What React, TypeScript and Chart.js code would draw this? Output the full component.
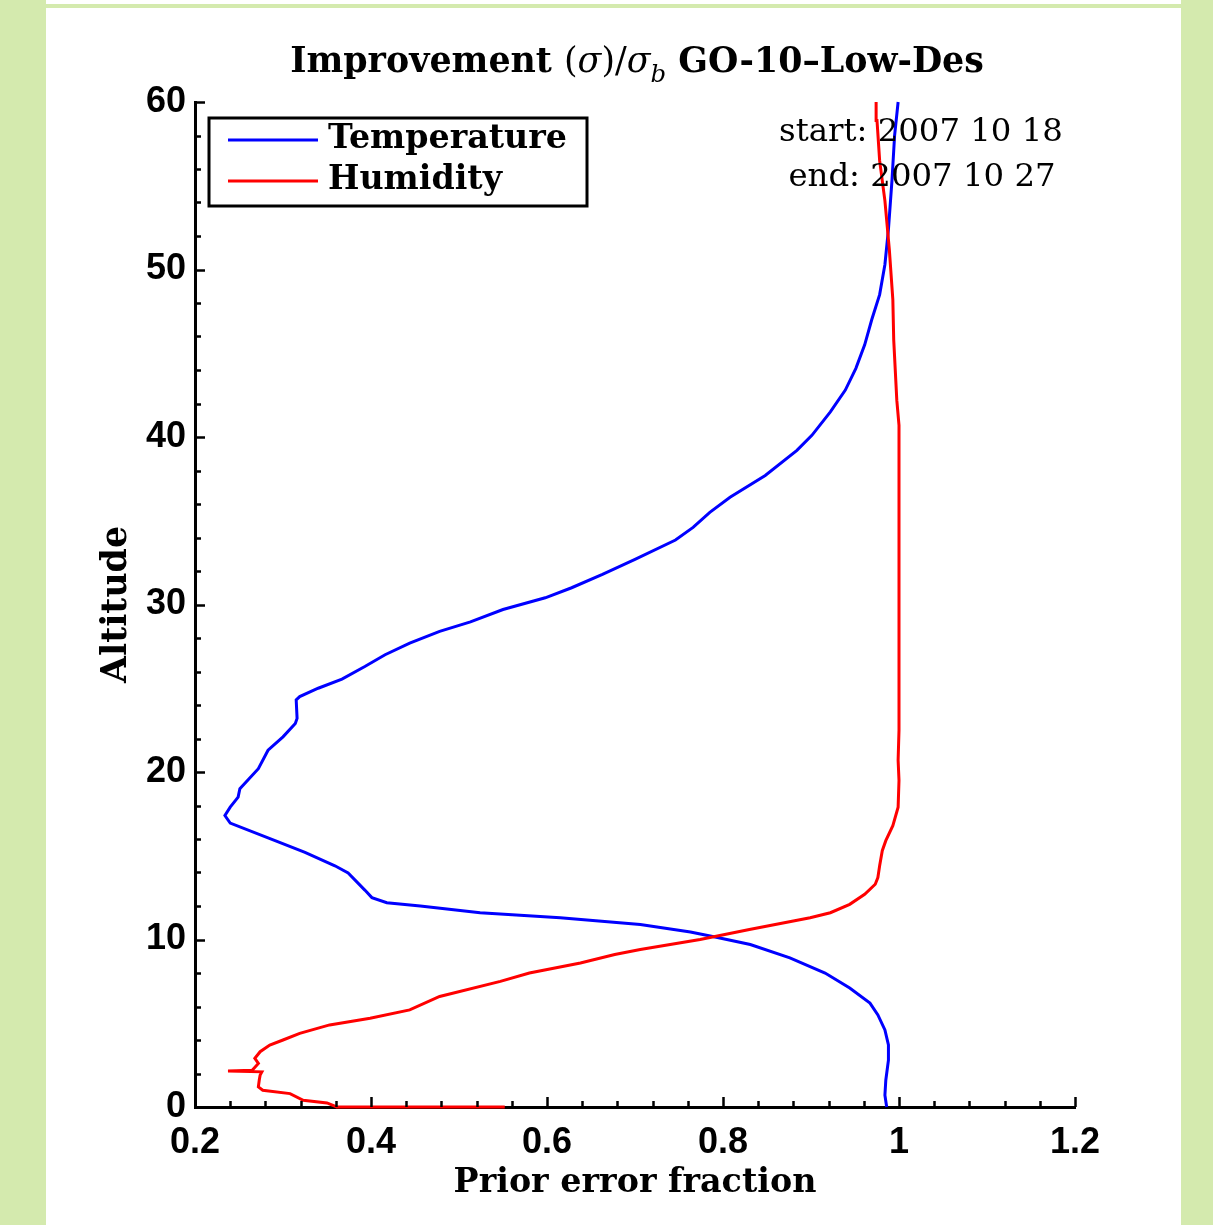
import React, { useEffect, useRef } from "react";
import { Chart, registerables } from "chart.js";

Chart.register(...registerables);

// ---------- data ----------
const tempX = [0.986, 0.984, 0.985, 0.988, 0.988, 0.984, 0.976, 0.967, 0.944, 0.916, 0.876, 0.831, 0.791, 0.763, 0.706, 0.615, 0.524, 0.456, 0.418, 0.401, 0.393, 0.374, 0.359, 0.325, 0.291, 0.240, 0.234, 0.240, 0.249, 0.251, 0.272, 0.283, 0.300, 0.314, 0.316, 0.315, 0.319, 0.340, 0.367, 0.393, 0.416, 0.444, 0.478, 0.513, 0.550, 0.598, 0.628, 0.663, 0.700, 0.746, 0.766, 0.785, 0.808, 0.848, 0.884, 0.901, 0.922, 0.939, 0.951, 0.961, 0.969, 0.978, 0.984, 0.988, 0.992, 0.995, 0.999];
const tempAlt = [0, 0.7, 1.6, 2.8, 3.7, 4.6, 5.5, 6.2, 7.1, 8.0, 8.9, 9.7, 10.15, 10.45, 10.9, 11.3, 11.6, 12.0, 12.2, 12.5, 12.95, 13.97, 14.4, 15.2, 15.9, 16.95, 17.4, 17.9, 18.5, 19.0, 20.2, 21.3, 22.1, 22.9, 23.2, 24.3, 24.5, 25.0, 25.55, 26.3, 27.0, 27.7, 28.4, 28.96, 29.7, 30.4, 31.0, 31.8, 32.7, 33.85, 34.6, 35.5, 36.4, 37.7, 39.2, 40.1, 41.5, 42.8, 44.1, 45.5, 47.0, 48.5, 50.3, 52.4, 55.3, 58.0, 60.0];

const humX = [0.552, 0.361, 0.350, 0.323, 0.308, 0.277, 0.272, 0.273, 0.274, 0.276, 0.2375, 0.265, 0.272, 0.268, 0.274, 0.285, 0.300, 0.319, 0.353, 0.399, 0.444, 0.478, 0.547, 0.580, 0.638, 0.677, 0.706, 0.774, 0.830, 0.899, 0.922, 0.944, 0.961, 0.973, 0.976, 0.978, 0.981, 0.985, 0.993, 0.999, 1.0, 0.999, 1.0, 1.0, 1.0, 0.9975, 0.994, 0.993, 0.989, 0.984, 0.978, 0.975, 0.974];
const humAlt = [0, 0, 0.24, 0.4, 0.8, 1.0, 1.2, 1.6, 1.9, 2.1, 2.15, 2.2, 2.6, 2.9, 3.3, 3.7, 4.0, 4.4, 4.9, 5.3, 5.8, 6.6, 7.5, 8.0, 8.6, 9.1, 9.4, 10.0, 10.6, 11.3, 11.6, 12.1, 12.7, 13.3, 13.7, 14.4, 15.3, 15.9, 16.8, 17.9, 19.5, 20.7, 22.5, 30.3, 40.7, 42.2, 45.8, 48.2, 51.2, 54.1, 56.5, 58.9, 60.0];

const seriesNames = ["Temperature", "Humidity"];
const seriesColors = ["#0000ff", "#ff0000"];

const xTickValues = [0.2, 0.4, 0.6, 0.8, 1.0, 1.2];
const xTickLabels = ["0.2", "0.4", "0.6", "0.8", "1", "1.2"];
const yTickValues = [0, 10, 20, 30, 40, 50, 60];
const yTickLabels = ["0", "10", "20", "30", "40", "50", "60"];

const titleText = ["Improvement ", "(", "σ", ")/", "σ", "b", " GO-10–Low-Des"];
const xAxisTitle = "Prior error fraction";
const yAxisTitle = "Altitude";
const periodLines = ["start: 2007 10 18", "end: 2007 10 27"];

// ---------- layout ----------
const W = 1213;
const H = 1225;
const PLOT_LEFT = 195;
const PLOT_RIGHT = 1075;
const PLOT_TOP = 102;
const PLOT_BOTTOM = 1107;
const SERIF = '"DejaVu Serif", "Liberation Serif", serif';
const SANS = '"Liberation Sans", Arial, sans-serif';
const GREEN = "#d4eaae";

function measure(font: string, text: string): number {
  const c = document.createElement("canvas").getContext("2d")!;
  c.font = font;
  return c.measureText(text).width;
}
function fitSize(text: string, weight: string, family: string, target: number, style = "normal"): number {
  const w = measure(`${style} ${weight} 100px ${family}`, text);
  return (100 * target) / w;
}

type Piece = { t: string; style: string; weight: string; scale: number; dy: number };
const titlePieces: Piece[] = [
  { t: titleText[0], style: "normal", weight: "bold", scale: 1, dy: 0 },
  { t: titleText[1], style: "normal", weight: "normal", scale: 1, dy: 0 },
  { t: titleText[2], style: "italic", weight: "normal", scale: 1, dy: 0 },
  { t: titleText[3], style: "normal", weight: "normal", scale: 1, dy: 0 },
  { t: titleText[4], style: "italic", weight: "normal", scale: 1, dy: 0 },
  { t: titleText[5], style: "italic", weight: "normal", scale: 0.7, dy: 0.28 },
  { t: titleText[6], style: "normal", weight: "bold", scale: 1, dy: 0 },
];

export default function App() {
  const ref = useRef<HTMLCanvasElement | null>(null);

  useEffect(() => {
    if (!ref.current) return;

    // font sizes fitted to reference text widths
    const xTitleSize = fitSize(xAxisTitle, "bold", SERIF, 363);
    const yTitleSize = fitSize(yAxisTitle, "bold", SERIF, 157);
    const legendSize = fitSize(seriesNames[0], "bold", SERIF, 239);
    const periodSize = fitSize(periodLines[0], "normal", SERIF, 284);
    let titleBase = 0;
    for (const p of titlePieces) {
      titleBase += measure(`${p.style} ${p.weight} ${100 * p.scale}px ${SERIF}`, p.t);
    }
    const titleSize = (100 * 694) / titleBase;

    const decorations = {
      id: "decorations",
      afterDatasetsDraw(chart: any) {
        const ctx = chart.ctx as CanvasRenderingContext2D;
        const xs = chart.scales.x;
        const ys = chart.scales.y;
        const left = chart.chartArea.left;
        const bottom = chart.chartArea.bottom;
        ctx.save();
        // inward ticks
        ctx.strokeStyle = "#000";
        ctx.lineWidth = 2.5;
        ctx.beginPath();
        for (let k = 0; k <= 30; k++) {
          const v = k * 2;
          const y = Math.round(ys.getPixelForValue(v)) + 0.5;
          const len = v % 10 === 0 ? 10 : 6;
          ctx.moveTo(left, y);
          ctx.lineTo(left + len, y);
        }
        for (let k = 0; k <= 25; k++) {
          const v = 0.2 + k * 0.04;
          const x = Math.round(xs.getPixelForValue(v)) + 0.5;
          const len = k % 5 === 0 ? 10 : 6;
          ctx.moveTo(x, bottom);
          ctx.lineTo(x, bottom - len);
        }
        ctx.stroke();

        // legend
        ctx.lineWidth = 3;
        ctx.strokeRect(209, 118, 378, 88);
        const rows = [140, 181];
        for (let i = 0; i < 2; i++) {
          ctx.strokeStyle = seriesColors[i];
          ctx.lineWidth = 3;
          ctx.beginPath();
          ctx.moveTo(228, rows[i]);
          ctx.lineTo(318, rows[i]);
          ctx.stroke();
          ctx.fillStyle = "#000";
          ctx.font = `bold ${legendSize}px ${SERIF}`;
          ctx.textAlign = "left";
          ctx.textBaseline = "middle";
          ctx.fillText(seriesNames[i], 328, rows[i] - 1);
        }

        // period text
        ctx.font = `normal ${periodSize}px ${SERIF}`;
        ctx.textAlign = "center";
        ctx.textBaseline = "middle";
        ctx.fillText(periodLines[0], 921, 133);
        ctx.fillText(periodLines[1], 922, 178);

        // title
        let total = 0;
        const widths: number[] = [];
        for (const p of titlePieces) {
          ctx.font = `${p.style} ${p.weight} ${titleSize * p.scale}px ${SERIF}`;
          const w = ctx.measureText(p.t).width;
          widths.push(w);
          total += w;
        }
        let x = 637 - total / 2;
        ctx.textAlign = "left";
        ctx.textBaseline = "alphabetic";
        const base = 72;
        titlePieces.forEach((p, i) => {
          ctx.font = `${p.style} ${p.weight} ${titleSize * p.scale}px ${SERIF}`;
          ctx.fillText(p.t, x, base + p.dy * titleSize);
          x += widths[i];
        });
        ctx.restore();
      },
    };

    const chart = new Chart(ref.current, {
      type: "scatter",
      data: {
        datasets: [
          {
            label: seriesNames[1],
            data: humX.map((v, i) => ({ x: v, y: humAlt[i] })),
            borderColor: seriesColors[1],
            backgroundColor: seriesColors[1],
            showLine: true,
            borderWidth: 3,
            pointRadius: 0,
            tension: 0,
            clip: false as any,
          },
          {
            label: seriesNames[0],
            data: tempX.map((v, i) => ({ x: v, y: tempAlt[i] })),
            borderColor: seriesColors[0],
            backgroundColor: seriesColors[0],
            showLine: true,
            borderWidth: 3,
            pointRadius: 0,
            tension: 0,
            clip: false as any,
          },
        ],
      },
      options: {
        responsive: false,
        animation: false,
        devicePixelRatio: 1,
        layout: { padding: { top: PLOT_TOP, right: W - PLOT_RIGHT, left: 0, bottom: 0 } },
        plugins: { legend: { display: false }, tooltip: { enabled: false }, title: { display: false } },
        scales: {
          x: {
            type: "linear",
            min: 0.2,
            max: 1.2,
            afterBuildTicks: (s: any) => {
              s.ticks = xTickValues.map((v) => ({ value: v }));
            },
            afterFit: (s: any) => {
              s.height = H - PLOT_BOTTOM;
            },
            grid: { display: false, drawTicks: false },
            border: { display: true, color: "#000", width: 3 },
            ticks: {
              color: "#000",
              padding: 14,
              maxRotation: 0,
              autoSkip: false,
              font: { family: SANS, weight: "bold", size: 36 },
              callback: (v: any) => {
                const i = xTickValues.findIndex((t) => Math.abs(t - Number(v)) < 1e-6);
                return i >= 0 ? xTickLabels[i] : "";
              },
            },
            title: {
              display: true,
              text: xAxisTitle,
              color: "#000",
              font: { family: SERIF, weight: "bold", size: xTitleSize },
              padding: { top: 0, bottom: 42 - (xTitleSize * 1.2) / 2 },
            },
          },
          y: {
            type: "linear",
            min: 0,
            max: 60,
            afterBuildTicks: (s: any) => {
              s.ticks = yTickValues.map((v) => ({ value: v }));
            },
            afterFit: (s: any) => {
              s.width = PLOT_LEFT;
            },
            grid: { display: false, drawTicks: false },
            border: { display: true, color: "#000", width: 3 },
            ticks: {
              color: "#000",
              padding: 9,
              autoSkip: false,
              font: { family: SANS, weight: "bold", size: 36 },
              callback: (v: any) => {
                const i = yTickValues.indexOf(Number(v));
                return i >= 0 ? yTickLabels[i] : "";
              },
            },
            title: {
              display: true,
              text: yAxisTitle,
              color: "#000",
              font: { family: SERIF, weight: "bold", size: yTitleSize },
              padding: { top: 117 - (yTitleSize * 1.2) / 2, bottom: 0 },
            },
          },
        },
      },
      plugins: [decorations],
    } as any);

    return () => chart.destroy();
  }, []);

  return (
    <div style={{ position: "absolute", left: 0, top: 0, width: W, height: H, background: GREEN, overflow: "hidden" }}>
      <div style={{ position: "absolute", left: 46, top: 0, width: 1135, height: 4, background: "#fff" }} />
      <div style={{ position: "absolute", left: 46, top: 8, width: 1135, height: H - 8, background: "#fff" }} />
      <canvas ref={ref} width={W} height={H} style={{ position: "absolute", left: 0, top: 0, width: W, height: H }} />
    </div>
  );
}
